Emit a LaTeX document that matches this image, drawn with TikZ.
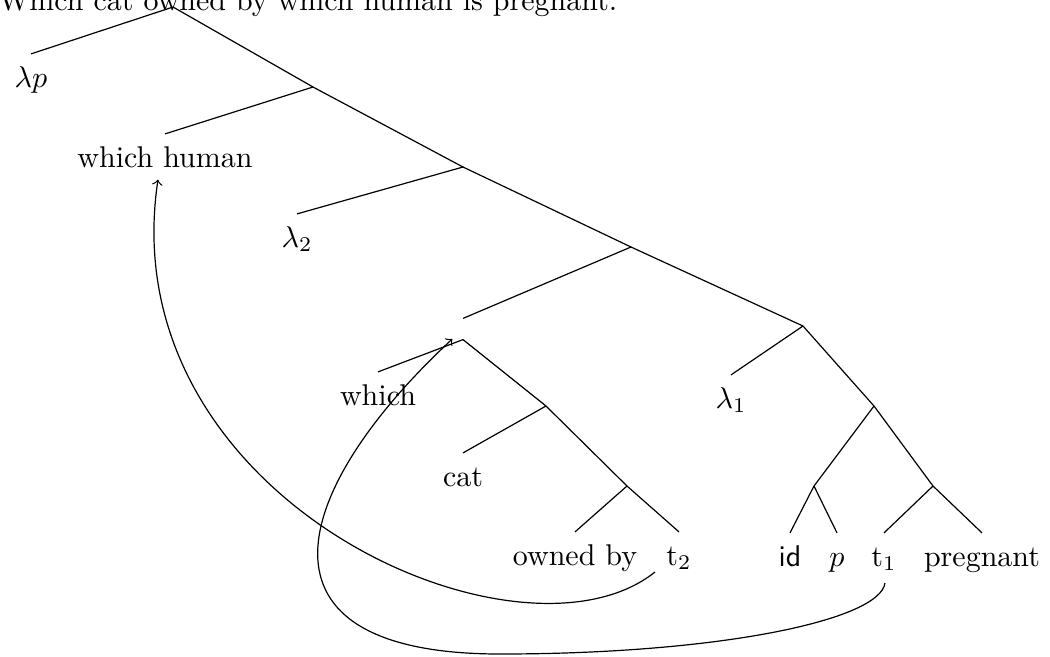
\documentclass[tikz,border=0pt]{standalone}
\usetikzlibrary{calc}
\begin{document}
\begin{tikzpicture}[x=0.3333pt,y=-0.3333pt,
  leaf/.style={anchor=base,text height=7.5pt,text depth=2pt},
  move/.style={->}]
  \useasboundingbox(0,0) rectangle(1050,656);
  \node[anchor=base west,inner sep=0](title) at(-2,10){Which cat owned by which human is pregnant.};
  % branching points
  \coordinate(R) at(173,7);
  \coordinate(A1) at(313,87);
  \coordinate(A2) at(463,167);
  \coordinate(A3) at(631,247);
  \node(DP) at(463,329){};
  \coordinate(F) at(546,406);
  \coordinate(G) at(627,486);
  \coordinate(B) at(803,326);
  \coordinate(C) at(874,406);
  \coordinate(D) at(814,486);
  \coordinate(E) at(933,486);
  % words
  \node[leaf](lp) at(31,87){$\lambda p$};
  \node[leaf](wh) at(165,167){which human};
  \node[leaf](l2) at(297,247){$\lambda_2$};
  \node[leaf](which) at(378,405){which};
  \node[leaf](cat) at(463,486){cat};
  \node[leaf](own) at(575,565){owned by};
  \node[leaf](t2) at(679,565){t$_2$};
  \node[leaf](l1) at(731,408){$\lambda_1$};
  \node[leaf](id) at(790,566){\textsf{id}};
  \node[leaf](p) at(837,566){$p$};
  \node[leaf](t1) at(884,566){t$_1$};
  \node[leaf](preg) at(982,566){pregnant};
  % branches
  \draw(R)--(lp.north);
  \draw(R)--(A1);
  \draw(A1)--(wh.north);
  \draw(A1)--(A2);
  \draw(A2)--(l2.north);
  \draw(A2)--(A3);
  \draw(A3)--(DP.north);
  \draw(A3)--(B);
  \draw(DP.south)--(which.north);
  \draw(DP.south)--(F);
  \draw(F)--(cat.north);
  \draw(F)--(G);
  \draw(G)--(own.north);
  \draw(G)--(t2.north);
  \draw(B)--(l1.north);
  \draw(B)--(C);
  \draw(C)--(D);
  \draw(C)--(E);
  \draw(D)--(id.north);
  \draw(D)--(p.north);
  \draw(E)--(t1.north);
  \draw(E)--(preg.north);
  % movement
  \draw[move]($(t2.base)+(-24,7)$) .. controls(520,680) and (110,500) .. ($(wh.south)+(-7,-4)$);
  \draw[move]($(t1.base)+(1,17)$) .. controls(880,620) and (720,654) .. (500,654)
    .. controls(240,654) and (290,490) .. (DP);
\end{tikzpicture}
\end{document}
